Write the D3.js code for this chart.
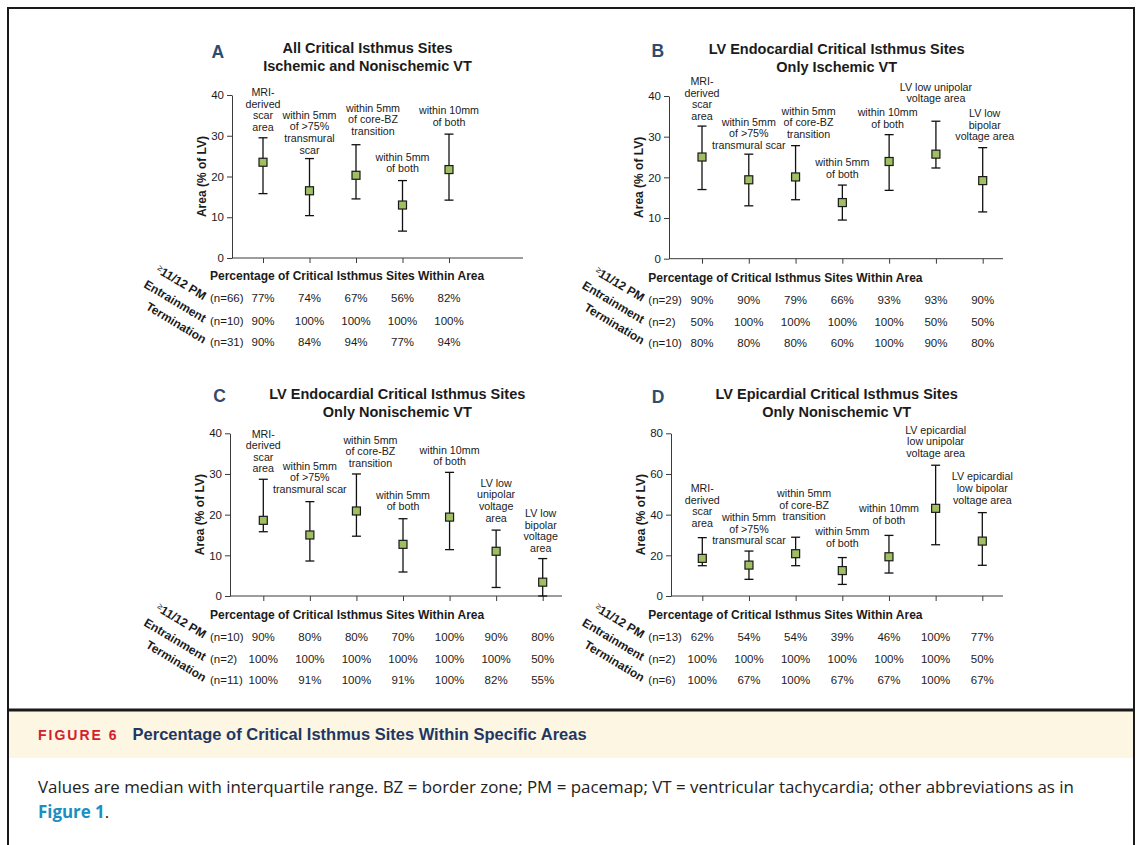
<!DOCTYPE html>
<html>
<head>
<meta charset="utf-8">
<script src="https://cdn.jsdelivr.net/npm/d3@7"></script>
<style>
  html, body { margin: 0; padding: 0; background: #fff; }
  svg { display: block; }
</style>
</head>
<body>
<svg id="fig" width="1142" height="845"></svg>
<script>
// ---------- data: medians with interquartile range (Area, % of LV) ----------
const catsA = ["MRI-|derived|scar|area", "within 5mm|of >75%|transmural|scar", "within 5mm|of core-BZ|transition", "within 5mm|of both", "within 10mm|of both"];
const medianA = [23.5, 16.5, 20.3, 13.0, 21.7];
const q1A = [15.8, 10.4, 14.5, 6.6, 14.2];
const q3A = [29.5, 24.4, 27.8, 19.0, 30.4];
const nA = [66, 10, 31];
const pmA = [77, 74, 67, 56, 82];
const entA = [90, 100, 100, 100, 100];
const termA = [90, 84, 94, 77, 94];

const catsB = ["MRI-|derived|scar|area", "within 5mm|of >75%|transmural scar", "within 5mm|of core-BZ|transition", "within 5mm|of both", "within 10mm|of both", "LV low unipolar|voltage area", "LV low|bipolar|voltage area"];
const medianB = [25.0, 19.4, 20.1, 13.8, 23.9, 25.7, 19.2];
const q1B = [17.0, 13.0, 14.5, 9.5, 16.8, 22.3, 11.5];
const q3B = [32.6, 25.7, 27.8, 18.1, 30.5, 33.8, 27.3];
const nB = [29, 2, 10];
const pmB = [90, 90, 79, 66, 93, 93, 90];
const entB = [50, 100, 100, 100, 100, 50, 50];
const termB = [80, 80, 80, 60, 100, 90, 80];

const catsC = ["MRI-|derived|scar|area", "within 5mm|of >75%|transmural scar", "within 5mm|of core-BZ|transition", "within 5mm|of both", "within 10mm|of both", "LV low|unipolar|voltage|area", "LV low|bipolar|voltage|area"];
const medianC = [18.6, 15.0, 20.9, 12.7, 19.4, 11.0, 3.4];
const q1C = [15.8, 8.6, 14.7, 5.9, 11.4, 2.1, 0];
const q3C = [28.7, 23.2, 30.0, 19.0, 30.4, 16.2, 9.2];
const nC = [10, 2, 11];
const pmC = [90, 80, 80, 70, 100, 90, 80];
const entC = [100, 100, 100, 100, 100, 100, 50];
const termC = [100, 91, 100, 91, 100, 82, 55];

const catsD = ["MRI-|derived|scar|area", "within 5mm|of >75%|transmural scar", "within 5mm|of core-BZ|transition", "within 5mm|of both", "within 10mm|of both", "LV epicardial|low unipolar|voltage area", "LV epicardial|low bipolar|voltage area"];
const medianD = [18.5, 15.2, 20.8, 12.5, 19.3, 43.1, 27.0];
const q1D = [14.9, 8.2, 14.9, 5.7, 11.3, 25.2, 15.1];
const q3D = [28.7, 22.1, 28.9, 18.9, 29.8, 64.3, 41.0];
const nD = [13, 2, 6];
const pmD = [62, 54, 54, 39, 46, 100, 77];
const entD = [100, 100, 100, 100, 100, 100, 50];
const termD = [100, 67, 100, 67, 67, 100, 67];

const rowNames = ["11/12 PM", "Entrainment", "Termination"];
const tableHeading = "Percentage of Critical Isthmus Sites Within Area";
const yLabel = "Area (% of LV)";

// ---------- panel layout ----------
const panels = [
  { letter: "A", title: ["All Critical Isthmus Sites", "Ischemic and Nonischemic VT"],
    cats: catsA, median: medianA, q1: q1A, q3: q3A, n: nA, rows: [pmA, entA, termA], yMax: 40, yStep: 10,
    L: { ax: 232, x0: 263, x1: 449, xEnd: 523, yTop: 95, yBase: 258, letterX: 211.5, letterY: 57.5,
         titleX: 367.5, titleY: [53.3, 71], tableX: 210, headY: 276, rowY: [298.3, 320.7, 341.7],
         gap: [10.7, 8.7, 13.7, 12, 12.3], dx: [0, 0, 17, 0, 0] } },
  { letter: "B", title: ["LV Endocardial Critical Isthmus Sites", "Only Ischemic VT"],
    cats: catsB, median: medianB, q1: q1B, q3: q3B, n: nB, rows: [pmB, entB, termB], yMax: 40, yStep: 10,
    L: { ax: 669, x0: 702, x1: 982.7, xEnd: 1003, yTop: 96, yBase: 258.7, letterX: 651.5, letterY: 56.8,
         titleX: 836.7, titleY: [54.3, 71.7], tableX: 648.3, headY: 277.3, rowY: [300, 321.7, 342.7],
         gap: [10, 9, 11.4, 10.7, 10.7, 22.7, 11], dx: [0, 0, 13, 0, -1.5, 0, 2] } },
  { letter: "C", title: ["LV Endocardial Critical Isthmus Sites", "Only Nonischemic VT"],
    cats: catsC, median: medianC, q1: q1C, q3: q3C, n: nC, rows: [pmC, entC, termC], yMax: 40, yStep: 10,
    L: { ax: 230, x0: 263.3, x1: 542.7, xEnd: 562, yTop: 433.3, yBase: 596, letterX: 213.3, letterY: 402,
         titleX: 397.3, titleY: [399, 416.7], tableX: 210, headY: 615, rowY: [636.7, 659, 680],
         gap: [10.6, 12.4, 10.7, 12, 10.6, 12.3, 10.4], dx: [0, 0, 14, 0, 0, 0, -2] } },
  { letter: "D", title: ["LV Epicardial Critical Isthmus Sites", "Only Nonischemic VT"],
    cats: catsD, median: medianD, q1: q1D, q3: q3D, n: nD, rows: [pmD, entD, termD], yMax: 80, yStep: 20,
    L: { ax: 671, x0: 702.3, x1: 982.3, xEnd: 1003, yTop: 433.3, yBase: 596, letterX: 651.7, letterY: 403,
         titleX: 836.7, titleY: [399, 416.7], tableX: 648.3, headY: 615, rowY: [636.7, 659, 680],
         gap: [14.3, 10.3, 20.6, 14.3, 15.3, 12, 12.7], dx: [0, 0, 8.5, 0, 0, 0, 0] } }
];

const FONT = "'Liberation Sans', Arial, Helvetica, sans-serif";
const CAPFONT = "'Open Sans', 'Liberation Sans', sans-serif";
const INK = "#1b1b1b";
const AXIS = "#3b3b3b";
const MARK = "#9fbf62";

const svg = d3.select("#fig").attr("font-family", FONT);
svg.append("rect").attr("width", 1142).attr("height", 845).attr("fill", "#fff");

function drawPanel(p) {
  const L = p.L;
  const g = svg.append("g");
  const y = d3.scaleLinear().domain([0, p.yMax]).range([L.yBase, L.yTop]);
  const x = d3.scalePoint().domain(d3.range(p.cats.length)).range([L.x0, L.x1]);

  // panel letter
  g.append("text").attr("x", L.letterX).attr("y", L.letterY)
    .attr("font-size", 17.5).attr("font-weight", "bold").attr("fill", "#2f4b6e").text(p.letter);

  // two-line title
  const t = g.append("text").attr("text-anchor", "middle").attr("font-size", 14.5)
    .attr("font-weight", "bold").attr("fill", INK);
  p.title.forEach((s, i) => t.append("tspan").attr("x", L.titleX).attr("y", L.titleY[i]).text(s));

  // y axis
  const ya = g.append("g").attr("transform", `translate(${L.ax},0)`)
    .call(d3.axisLeft(y).tickValues(d3.range(0, p.yMax + 1, p.yStep))
      .tickSize(5).tickSizeOuter(0).tickPadding(3));
  ya.selectAll("path, line").attr("stroke", AXIS).attr("stroke-width", 1);
  ya.selectAll("text").attr("font-size", 11.5).attr("font-family", FONT).attr("fill", INK);

  // x axis baseline and category ticks
  g.append("line").attr("x1", L.ax).attr("x2", L.xEnd).attr("y1", L.yBase).attr("y2", L.yBase)
    .attr("stroke", AXIS).attr("stroke-width", 1);
  const xa = g.append("g").attr("transform", `translate(0,${L.yBase})`)
    .call(d3.axisBottom(x).tickSize(5).tickSizeOuter(0).tickFormat(() => ""));
  xa.select(".domain").remove();
  xa.selectAll("line").attr("stroke", AXIS).attr("stroke-width", 1);

  // y axis title
  g.append("text").attr("transform", `translate(${L.ax - 26},${(L.yTop + L.yBase) / 2}) rotate(-90)`)
    .attr("text-anchor", "middle").attr("font-size", 12).attr("font-weight", "bold")
    .attr("fill", INK).text(yLabel);

  // interquartile whiskers with caps
  const idx = d3.range(p.cats.length);
  const cap = 4.5;
  const w = g.append("g").attr("stroke", "#111").attr("stroke-width", 1.3);
  w.selectAll(".stem").data(idx).join("line")
    .attr("x1", i => x(i)).attr("x2", i => x(i))
    .attr("y1", i => y(p.q1[i])).attr("y2", i => y(p.q3[i]));
  w.selectAll(".capHi").data(idx).join("line").attr("class", "capHi")
    .attr("x1", i => x(i) - cap).attr("x2", i => x(i) + cap)
    .attr("y1", i => y(p.q3[i])).attr("y2", i => y(p.q3[i]));
  w.selectAll(".capLo").data(idx).join("line").attr("class", "capLo")
    .attr("x1", i => x(i) - cap).attr("x2", i => x(i) + cap)
    .attr("y1", i => y(p.q1[i])).attr("y2", i => y(p.q1[i]));

  // median markers
  const s = 8;
  g.selectAll(".med").data(idx).join("rect")
    .attr("x", i => x(i) - s / 2).attr("y", i => y(p.median[i]) - s / 2)
    .attr("width", s).attr("height", s)
    .attr("fill", MARK).attr("stroke", "#1a1a1a").attr("stroke-width", 1.2);

  // category labels above each whisker
  const lh = 11.6;
  idx.forEach(i => {
    const lines = p.cats[i].split("|");
    const last = y(p.q3[i]) - L.gap[i] + 3.7;
    const cx = x(i) + L.dx[i];
    const tx = g.append("text").attr("text-anchor", "middle").attr("font-size", 10.7).attr("fill", INK);
    lines.forEach((ln, k) => tx.append("tspan").attr("x", cx)
      .attr("y", last - (lines.length - 1 - k) * lh).text(ln));
  });

  // percentage table
  g.append("text").attr("x", L.tableX).attr("y", L.headY + 4.2)
    .attr("font-size", 12).attr("font-weight", "bold").attr("fill", INK).text(tableHeading);
  p.rows.forEach((row, r) => {
    const ry = L.rowY[r] + 4;
    g.append("text").attr("x", L.tableX).attr("y", ry)
      .attr("font-size", 11.5).attr("fill", INK).text(`(n=${p.n[r]})`);
    g.selectAll(null).data(row).join("text")
      .attr("x", (v, i) => x(i)).attr("y", ry).attr("text-anchor", "middle")
      .attr("font-size", 11.5).attr("fill", INK).text(v => `${v}%`);
    // slanted row names
    const rn = g.append("text")
      .attr("transform", `translate(${L.tableX - 7},${L.rowY[r] + 2}) rotate(31)`)
      .attr("text-anchor", "end").attr("font-size", 12).attr("font-weight", "bold").attr("fill", INK);
    if (r === 0) {
      rn.append("tspan").attr("font-size", 8.5).attr("font-weight", "normal").attr("dy", -3).text("\u2265");
      rn.append("tspan").attr("dy", 3).text(rowNames[r]);
    } else {
      rn.text(rowNames[r]);
    }
  });
}

panels.forEach(drawPanel);

// ---------- figure frame and caption ----------
svg.append("rect").attr("x", 9).attr("y", 711).attr("width", 1124).attr("height", 47).attr("fill", "#fdf6e3");
svg.append("line").attr("x1", 8).attr("x2", 1134).attr("y1", 710).attr("y2", 710)
  .attr("stroke", "#1a1a1a").attr("stroke-width", 3);
svg.append("rect").attr("x", 8).attr("y", 8).attr("width", 1126).attr("height", 860)
  .attr("fill", "none").attr("stroke", "#1a1a1a").attr("stroke-width", 2);

const cap1 = svg.append("text").attr("x", 38).attr("y", 740).attr("font-weight", "bold");
cap1.append("tspan").attr("fill", "#d3202f").attr("font-size", 14).attr("letter-spacing", 2).text("FIGURE 6");
cap1.append("tspan").attr("dx", 14).attr("fill", "#1f3763").attr("font-size", 16.5).text("Percentage of Critical Isthmus Sites Within Specific Areas");

svg.append("text").attr("x", 38).attr("y", 793).attr("font-size", 16.9).attr("font-family", CAPFONT).attr("fill", "#222")
  .text("Values are median with interquartile range. BZ = border zone; PM = pacemap; VT = ventricular tachycardia; other abbreviations as in");
const cap3 = svg.append("text").attr("x", 38).attr("y", 818).attr("font-size", 16.9).attr("font-family", CAPFONT).attr("fill", "#222");
cap3.append("tspan").attr("fill", "#1b8ec2").attr("font-weight", "bold").text("Figure 1");
cap3.append("tspan").text(".");
</script>
</body>
</html>
